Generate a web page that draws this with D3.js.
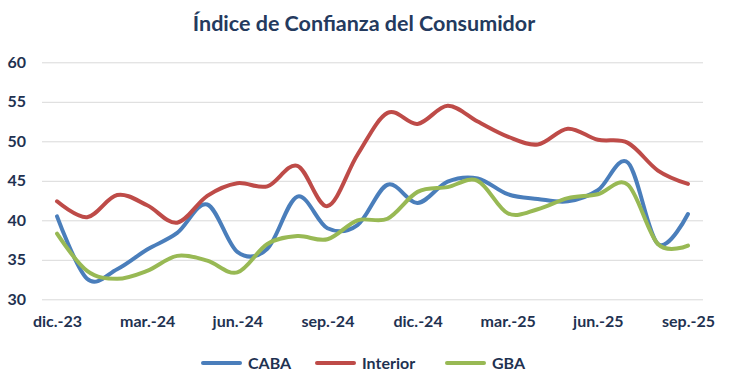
<!DOCTYPE html>
<html>
<head>
<meta charset="utf-8">
<script src="https://cdn.jsdelivr.net/npm/d3@7"></script>
<style>
  html, body { margin: 0; padding: 0; background: #ffffff; }
  svg { display: block; }
  text { font-family: Lato, "Open Sans", sans-serif; font-weight: 700; }
</style>
</head>
<body>
<svg id="chart" width="738" height="387"></svg>
<script>
// ---- data ----
const months = ["dic.-23","ene.-24","feb.-24","mar.-24","abr.-24","may.-24","jun.-24","jul.-24","ago.-24","sep.-24","oct.-24","nov.-24",
                "dic.-24","ene.-25","feb.-25","mar.-25","abr.-25","may.-25","jun.-25","jul.-25","ago.-25","sep.-25"];
const tickMonths = ["dic.-23","mar.-24","jun.-24","sep.-24","dic.-24","mar.-25","jun.-25","sep.-25"];
const yTicks = [30, 35, 40, 45, 50, 55, 60];
const caba     = [40.5, 32.6, 33.8, 36.3, 38.4, 42.0, 36.0, 36.4, 43.0, 39.0, 39.4, 44.5, 42.2, 44.9, 45.3, 43.3, 42.7, 42.4, 43.8, 47.3, 37.0, 40.8];
const interior = [42.4, 40.4, 43.2, 41.9, 39.7, 43.1, 44.7, 44.3, 46.9, 41.8, 48.3, 53.6, 52.2, 54.5, 52.5, 50.6, 49.6, 51.6, 50.2, 49.8, 46.3, 44.6];
const gba      = [38.3, 33.6, 32.6, 33.6, 35.5, 34.9, 33.4, 37.0, 38.0, 37.6, 40.0, 40.2, 43.6, 44.2, 45.0, 40.9, 41.4, 42.8, 43.3, 44.5, 37.0, 36.8];
const seriesNames = ["CABA", "Interior", "GBA"];
const seriesColors = ["#4A7EBB", "#BE4B48", "#98B954"];
const title = "Índice de Confianza del Consumidor";

// ---- layout ----
const svg = d3.select("#chart");
const plot = { left: 42, right: 703, top: 62.3, bottom: 299.3 };
const textColor = "#1F3251";

const x = d3.scalePoint().domain(months).range([plot.left, plot.right]).padding(0.5);
const y = d3.scaleLinear().domain([30, 60]).range([plot.bottom, plot.top]);

// title
svg.append("text")
  .attr("x", 364).attr("y", 31)
  .attr("text-anchor", "middle")
  .attr("font-size", 21.5)
  .attr("fill", "#243A5E")
  .text(title);

// y axis + gridlines
const yAxis = svg.append("g")
  .attr("transform", `translate(${plot.left},0)`)
  .call(d3.axisLeft(y).tickValues(yTicks).tickSize(-(plot.right - plot.left)).tickPadding(16));
yAxis.select(".domain").remove();
yAxis.selectAll(".tick line").attr("stroke", "#D9D9D9").attr("stroke-width", 1);
yAxis.selectAll(".tick text").attr("font-size", 16).attr("fill", textColor)
  .attr("font-family", "Lato, sans-serif").attr("font-weight", 700);

// x axis labels
const xAxis = svg.append("g")
  .attr("transform", `translate(0,${plot.bottom})`)
  .call(d3.axisBottom(x).tickValues(tickMonths).tickSize(0).tickPadding(16));
xAxis.select(".domain").remove();
xAxis.selectAll(".tick text").attr("font-size", 16).attr("fill", textColor)
  .attr("font-family", "Lato, sans-serif").attr("font-weight", 700);

// lines
const allSeries = [caba, interior, gba];
const line = d3.line()
  .x((d, i) => x(months[i]))
  .y(d => y(d))
  .curve(d3.curveCardinal.tension(0));

svg.append("g").selectAll("path")
  .data(allSeries)
  .join("path")
  .attr("d", d => line(d))
  .attr("fill", "none")
  .attr("stroke", (d, i) => seriesColors[i])
  .attr("stroke-width", 4)
  .attr("stroke-linecap", "round")
  .attr("stroke-linejoin", "round");

// legend
const legendItems = [
  { name: seriesNames[0], color: seriesColors[0], x: 203 },
  { name: seriesNames[1], color: seriesColors[1], x: 317 },
  { name: seriesNames[2], color: seriesColors[2], x: 447 }
];
const legendY = 363;
const lg = svg.append("g");
legendItems.forEach(it => {
  lg.append("line")
    .attr("x1", it.x).attr("x2", it.x + 37)
    .attr("y1", legendY).attr("y2", legendY)
    .attr("stroke", it.color).attr("stroke-width", 4).attr("stroke-linecap", "round");
  lg.append("text")
    .attr("x", it.x + 45).attr("y", legendY + 5.5)
    .attr("font-size", 16).attr("fill", textColor)
    .text(it.name);
});
</script>
</body>
</html>
